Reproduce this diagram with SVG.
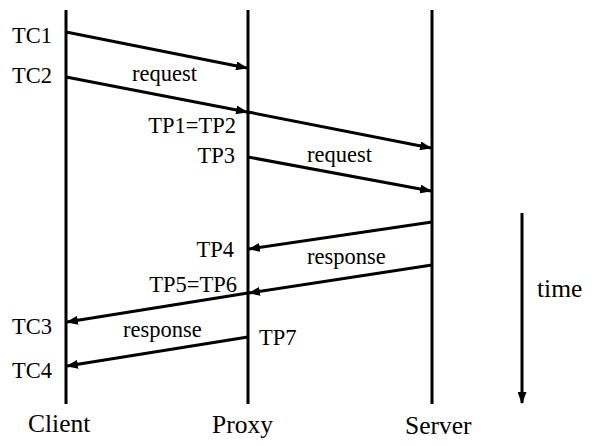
<svg xmlns="http://www.w3.org/2000/svg" width="592" height="446" viewBox="0 0 592 446">
<defs>
<marker id="ah" markerUnits="userSpaceOnUse" markerWidth="12" markerHeight="9" refX="11" refY="4.5" orient="auto">
<path d="M0,0 L12,4.5 L0,9 z" fill="#000"/>
</marker>
</defs>
<g id="client">
<line stroke="#000" stroke-width="3" x1="66" y1="10" x2="66" y2="404"/>
<text font-family="Liberation Serif" font-size="25.5" x="28" y="432">Client</text>
</g>
<g id="proxy">
<line stroke="#000" stroke-width="3" x1="248" y1="10" x2="248" y2="404"/>
<text font-family="Liberation Serif" font-size="25.5" x="212" y="433">Proxy</text>
</g>
<g id="server">
<line stroke="#000" stroke-width="3" x1="432" y1="10" x2="432" y2="404"/>
<text font-family="Liberation Serif" font-size="25.5" x="405" y="434">Server</text>
</g>
<g id="time">
<line stroke="#000" stroke-width="3" marker-end="url(#ah)" x1="522" y1="213" x2="522" y2="403"/>
<text font-family="Liberation Serif" font-size="25.5" x="537" y="297">time</text>
</g>
<g id="connectors" stroke="#000" stroke-width="3" fill="none" marker-end="url(#ah)">
<line x1="66" y1="32" x2="247" y2="68"/>
<line x1="66" y1="77" x2="247" y2="112"/>
<line x1="248" y1="112" x2="431" y2="148"/>
<line x1="248" y1="157" x2="431" y2="191"/>
<line x1="432" y1="222" x2="249" y2="249"/>
<line x1="432" y1="265" x2="249" y2="293"/>
<line x1="248" y1="293" x2="67" y2="322"/>
<line x1="248" y1="337" x2="67" y2="366"/>
</g>
<g id="labels" font-family="Liberation Serif" font-size="22.5">
<text x="12" y="43">TC1</text>
<text x="12" y="83">TC2</text>
<text x="132" y="81">request</text>
<text text-anchor="end" x="236" y="133">TP1=TP2</text>
<text text-anchor="end" x="235" y="163">TP3</text>
<text x="307" y="162">request</text>
<text text-anchor="end" x="234" y="257">TP4</text>
<text x="307" y="264">response</text>
<text text-anchor="end" x="237" y="292">TP5=TP6</text>
<text x="12" y="334">TC3</text>
<text x="123" y="337">response</text>
<text x="259" y="345">TP7</text>
<text x="12" y="378">TC4</text>
</g>
</svg>
